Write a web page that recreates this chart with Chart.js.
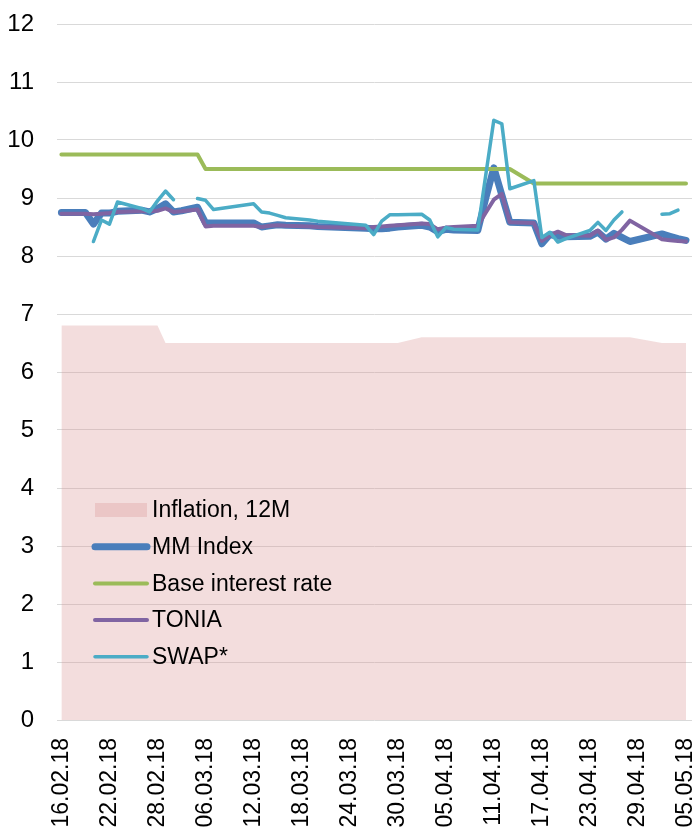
<!DOCTYPE html>
<html>
<head>
<meta charset="utf-8">
<script src="https://cdn.jsdelivr.net/npm/chart.js@4/dist/chart.umd.min.js"></script>
<style>
  html, body { margin: 0; padding: 0; background: #fff; }
  #wrap { width: 700px; height: 836px; }
</style>
</head>
<body>
<div id="wrap"><canvas id="chart" width="700" height="836"></canvas></div>
<script>
// working days in the sample
const dates = [
  '16.02.18', '19.02.18', '20.02.18', '21.02.18', '22.02.18', '23.02.18', '26.02.18', '27.02.18', '28.02.18',
  '01.03.18', '02.03.18', '03.03.18', '05.03.18', '06.03.18', '07.03.18', '12.03.18', '13.03.18', '14.03.18',
  '15.03.18', '16.03.18', '19.03.18', '20.03.18', '26.03.18', '27.03.18', '28.03.18', '29.03.18', '30.03.18',
  '02.04.18', '03.04.18', '04.04.18', '05.04.18', '06.04.18', '09.04.18', '10.04.18', '11.04.18', '12.04.18',
  '13.04.18', '16.04.18', '17.04.18', '18.04.18', '19.04.18', '20.04.18', '23.04.18', '24.04.18', '25.04.18',
  '26.04.18', '27.04.18', '28.04.18', '02.05.18', '03.05.18', '04.05.18', '05.05.18'
];

const inflation = [
  6.8, 6.8, 6.8, 6.8, 6.8, 6.8, 6.8, 6.8, 6.8,
  6.5, 6.5, 6.5, 6.5, 6.5, 6.5, 6.5, 6.5, 6.5,
  6.5, 6.5, 6.5, 6.5, 6.5, 6.5, 6.5, 6.5, 6.5,
  6.6, 6.6, 6.6, 6.6, 6.6, 6.6, 6.6, 6.6, 6.6,
  6.6, 6.6, 6.6, 6.6, 6.6, 6.6, 6.6, 6.6, 6.6,
  6.6, 6.6, 6.6, 6.5, 6.5, 6.5, 6.5
];

const mmIndex = [
  8.75, 8.75, 8.55, 8.74, 8.74, 8.77, 8.79, 8.76, 8.82,
  8.90, 8.76, 8.78, 8.84, 8.57, 8.57, 8.57, 8.50, 8.52,
  8.54, 8.53, 8.52, 8.51, 8.48, 8.47, 8.47, 8.48, 8.50,
  8.53, 8.50, 8.42, 8.46, 8.45, 8.44, 9.00, 9.52, 9.05,
  8.58, 8.57, 8.21, 8.37, 8.34, 8.33, 8.34, 8.41, 8.29,
  8.39, 8.32, 8.25, 8.38, 8.34, 8.30, 8.27
];

const baseRate = [
  9.75, 9.75, 9.75, 9.75, 9.75, 9.75, 9.75, 9.75, 9.75,
  9.75, 9.75, 9.75, 9.75, 9.5, 9.5, 9.5, 9.5, 9.5,
  9.5, 9.5, 9.5, 9.5, 9.5, 9.5, 9.5, 9.5, 9.5,
  9.5, 9.5, 9.5, 9.5, 9.5, 9.5, 9.5, 9.5, 9.5,
  9.5, 9.25, 9.25, 9.25, 9.25, 9.25, 9.25, 9.25, 9.25,
  9.25, 9.25, 9.25, 9.25, 9.25, 9.25, 9.25
];

const tonia = [
  8.73, 8.73, 8.72, 8.73, 8.74, 8.76, 8.77, 8.77, 8.78,
  8.82, 8.76, 8.77, 8.80, 8.51, 8.52, 8.52, 8.50, 8.52,
  8.53, 8.52, 8.51, 8.50, 8.48, 8.50, 8.51, 8.52, 8.53,
  8.56, 8.55, 8.46, 8.49, 8.50, 8.52, 8.75, 8.97, 9.07,
  8.58, 8.57, 8.26, 8.36, 8.42, 8.36, 8.35, 8.44, 8.28,
  8.32, 8.45, 8.61, 8.29, 8.27, 8.26, 8.25
];

const swap = [
  null, null, 8.25, 8.62, 8.55, 8.93, 8.82, 8.76, 8.95,
  9.12, 8.97, null, 8.99, 8.96, 8.80, 8.90, 8.76, 8.74,
  8.70, 8.66, 8.62, 8.60, 8.53, 8.37, 8.60, 8.71, 8.71,
  8.72, 8.62, 8.33, 8.49, 8.46, 8.45, 9.40, 10.34, 10.28,
  9.16, 9.30, 8.32, 8.41, 8.24, 8.30, 8.44, 8.58, 8.44,
  8.62, 8.76, null, 8.72, 8.73, 8.79, null
];

const tickLabels = [
  '16.02.18', '22.02.18', '28.02.18', '06.03.18', '12.03.18', '18.03.18', '24.03.18',
  '30.03.18', '05.04.18', '11.04.18', '17.04.18', '23.04.18', '29.04.18', '05.05.18'
];

const yTicks = [0, 1, 2, 3, 4, 5, 6, 7, 8, 9, 10, 11, 12];

// day number counted from the first date
function dayOf(s) {
  const [d, m, y] = s.split('.').map(Number);
  return (Date.UTC(2000 + y, m - 1, d) - Date.UTC(2018, 1, 16)) / 86400000;
}
const toPoints = (arr) => dates.map((d, i) => ({ x: dayOf(d), y: arr[i] }));

const FONT = '"Liberation Sans", Arial, sans-serif';

const lineDs = (label, arr, color, width, order) => ({
  label, data: toPoints(arr), borderColor: color, backgroundColor: color,
  borderWidth: width, pointRadius: 0, fill: false, tension: 0,
  borderCapStyle: 'round', borderJoinStyle: 'round', spanGaps: false, order
});

// legend drawn inside the plot, lower left
const insideLegend = {
  id: 'insideLegend',
  afterDatasetsDraw(chart) {
    const ctx = chart.ctx;
    ctx.save();
    ctx.font = '23px ' + FONT;
    ctx.textBaseline = 'middle';
    ctx.fillStyle = '#000';
    chart.data.datasets.forEach((ds, i) => {
      const y = 510 + i * 36.7;
      if (ds.fill) {
        ctx.fillStyle = ds.backgroundColor;
        ctx.fillRect(95, y - 7, 52, 14);
      } else {
        ctx.strokeStyle = ds.borderColor;
        ctx.lineWidth = ds.borderWidth;
        ctx.lineCap = 'round';
        ctx.beginPath();
        ctx.moveTo(95, y);
        ctx.lineTo(147, y);
        ctx.stroke();
      }
      ctx.fillStyle = '#000';
      ctx.fillText(ds.label, 152, y + 1);
    });
    ctx.restore();
  }
};

new Chart(document.getElementById('chart'), {
  type: 'line',
  data: {
    datasets: [
      {
        label: 'Inflation, 12M', data: toPoints(inflation),
        borderWidth: 0, borderColor: 'rgba(0,0,0,0)',
        backgroundColor: 'rgba(217,150,148,0.32)', fill: 'origin',
        pointRadius: 0, tension: 0, order: 5
      },
      lineDs('MM Index', mmIndex, '#4a7ebb', 7, 4),
      lineDs('Base interest rate', baseRate, '#9bbb59', 4, 3),
      lineDs('TONIA', tonia, '#8064a2', 4, 2),
      lineDs('SWAP*', swap, '#4bacc6', 3.5, 1)
    ]
  },
  options: {
    responsive: false,
    animation: false,
    devicePixelRatio: 1,
    layout: { padding: { top: 24, right: 8, left: 0, bottom: 0 } },
    plugins: { legend: { display: false }, tooltip: { enabled: false } },
    scales: {
      x: {
        type: 'linear', min: -0.55, max: 78.75,
        grid: { display: false, drawTicks: false },
        border: { display: false },
        afterBuildTicks: (scale) => { scale.ticks = tickLabels.map(l => ({ value: dayOf(l) })); },
        afterFit: (scale) => { scale.height = 116; scale.paddingLeft = 0; scale.paddingRight = 0; },
        ticks: {
          autoSkip: false, minRotation: 90, maxRotation: 90, padding: 18,
          color: '#000', font: { family: FONT, size: 23 },
          callback: (v, i) => tickLabels[i]
        }
      },
      y: {
        min: 0, max: 12,
        afterBuildTicks: (scale) => { scale.ticks = yTicks.map(v => ({ value: v })); },
        afterFit: (scale) => { scale.width = 57; scale.paddingTop = 0; scale.paddingBottom = 0; },
        grid: { color: '#d9d9d9', lineWidth: 1, drawTicks: false },
        border: { display: false },
        ticks: { padding: 23, color: '#000', font: { family: FONT, size: 24 } }
      }
    }
  },
  plugins: [insideLegend]
});
</script>
</body>
</html>
